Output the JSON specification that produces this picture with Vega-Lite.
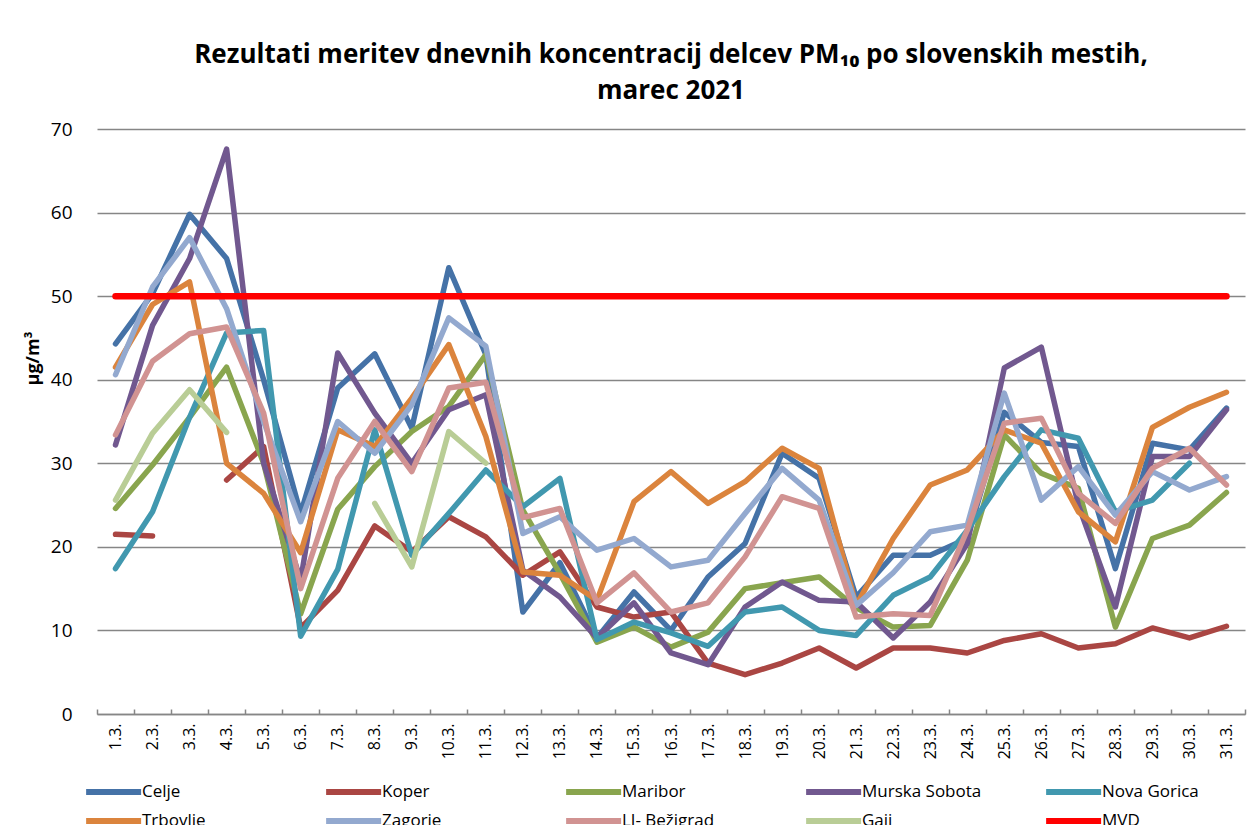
{
  "$schema": "https://vega.github.io/schema/vega-lite/v6.json",
  "autosize": "none",
  "width": 1148,
  "height": 585,
  "padding": {"left": 97, "top": 129, "right": 5, "bottom": 111},
  "background": "white",
  "config": {
    "font": "Open Sans",
    "view": {"stroke": null}
  },
  "title": {
    "text": ["Rezultati meritev dnevnih koncentracij delcev PM₁₀ po slovenskih mestih,", "marec 2021"],
    "font": "Open Sans",
    "fontSize": 26,
    "fontWeight": "bold",
    "color": "black",
    "lineHeight": 36,
    "offset": 16,
    "anchor": "middle"
  },
  "data": {
    "values": [
      {"day": "1.3.", "Celje": 44.3, "Koper": 21.5, "Maribor": 24.6, "Murska Sobota": 32.2, "Nova Gorica": 17.4, "Trbovlje": 41.5, "Zagorje": 40.6, "LJ- Bežigrad": 33.4, "Gaji": 25.6, "MVD": 50},
      {"day": "2.3.", "Celje": 50.3, "Koper": 21.3, "Maribor": 29.8, "Murska Sobota": 46.5, "Nova Gorica": 24.2, "Trbovlje": 49.0, "Zagorje": 51.1, "LJ- Bežigrad": 42.2, "Gaji": 33.6, "MVD": 50},
      {"day": "3.3.", "Celje": 59.8, "Koper": null, "Maribor": 35.5, "Murska Sobota": 54.5, "Nova Gorica": 35.5, "Trbovlje": 51.7, "Zagorje": 57.0, "LJ- Bežigrad": 45.5, "Gaji": 38.8, "MVD": 50},
      {"day": "4.3.", "Celje": 54.5, "Koper": 28.0, "Maribor": 41.5, "Murska Sobota": 67.6, "Nova Gorica": 45.6, "Trbovlje": 30.0, "Zagorje": 48.5, "LJ- Bežigrad": 46.3, "Gaji": 33.7, "MVD": 50},
      {"day": "5.3.", "Celje": 40.0, "Koper": 32.0, "Maribor": 30.0, "Murska Sobota": 30.0, "Nova Gorica": 45.9, "Trbovlje": 26.4, "Zagorje": 35.0, "LJ- Bežigrad": 36.0, "Gaji": null, "MVD": 50},
      {"day": "6.3.", "Celje": 24.0, "Koper": 10.3, "Maribor": 12.0, "Murska Sobota": 16.0, "Nova Gorica": 9.3, "Trbovlje": 19.3, "Zagorje": 23.0, "LJ- Bežigrad": 15.0, "Gaji": null, "MVD": 50},
      {"day": "7.3.", "Celje": 39.0, "Koper": 14.8, "Maribor": 24.5, "Murska Sobota": 43.2, "Nova Gorica": 17.3, "Trbovlje": 34.0, "Zagorje": 35.0, "LJ- Bežigrad": 28.2, "Gaji": null, "MVD": 50},
      {"day": "8.3.", "Celje": 43.1, "Koper": 22.5, "Maribor": 29.6, "Murska Sobota": 36.0, "Nova Gorica": 34.0, "Trbovlje": 32.0, "Zagorje": 31.2, "LJ- Bežigrad": 35.0, "Gaji": 25.2, "MVD": 50},
      {"day": "9.3.", "Celje": 34.2, "Koper": 19.4, "Maribor": 33.8, "Murska Sobota": 30.0, "Nova Gorica": 19.0, "Trbovlje": 37.8, "Zagorje": 37.0, "LJ- Bežigrad": 29.0, "Gaji": 17.6, "MVD": 50},
      {"day": "10.3.", "Celje": 53.4, "Koper": 23.6, "Maribor": 36.8, "Murska Sobota": 36.4, "Nova Gorica": 24.0, "Trbovlje": 44.2, "Zagorje": 47.4, "LJ- Bežigrad": 39.0, "Gaji": 33.8, "MVD": 50},
      {"day": "11.3.", "Celje": 43.0, "Koper": 21.2, "Maribor": 43.0, "Murska Sobota": 38.2, "Nova Gorica": 29.2, "Trbovlje": 33.2, "Zagorje": 44.0, "LJ- Bežigrad": 39.7, "Gaji": 30.0, "MVD": 50},
      {"day": "12.3.", "Celje": 12.2, "Koper": 16.6, "Maribor": 24.4, "Murska Sobota": 17.2, "Nova Gorica": 24.8, "Trbovlje": 17.0, "Zagorje": 21.6, "LJ- Bežigrad": 23.5, "Gaji": null, "MVD": 50},
      {"day": "13.3.", "Celje": 18.1, "Koper": 19.4, "Maribor": 16.8, "Murska Sobota": 14.0, "Nova Gorica": 28.2, "Trbovlje": 16.6, "Zagorje": 23.6, "LJ- Bežigrad": 24.6, "Gaji": null, "MVD": 50},
      {"day": "14.3.", "Celje": 9.1, "Koper": 12.8, "Maribor": 8.6, "Murska Sobota": 9.1, "Nova Gorica": 8.9, "Trbovlje": 13.6, "Zagorje": 19.6, "LJ- Bežigrad": 13.3, "Gaji": null, "MVD": 50},
      {"day": "15.3.", "Celje": 14.6, "Koper": 11.6, "Maribor": 10.4, "Murska Sobota": 13.3, "Nova Gorica": 11.0, "Trbovlje": 25.4, "Zagorje": 21.0, "LJ- Bežigrad": 16.9, "Gaji": null, "MVD": 50},
      {"day": "16.3.", "Celje": 10.0, "Koper": 12.2, "Maribor": 8.0, "Murska Sobota": 7.3, "Nova Gorica": 9.7, "Trbovlje": 29.0, "Zagorje": 17.6, "LJ- Bežigrad": 12.2, "Gaji": null, "MVD": 50},
      {"day": "17.3.", "Celje": 16.4, "Koper": 6.1, "Maribor": 9.8, "Murska Sobota": 5.9, "Nova Gorica": 8.1, "Trbovlje": 25.2, "Zagorje": 18.4, "LJ- Bežigrad": 13.3, "Gaji": null, "MVD": 50},
      {"day": "18.3.", "Celje": 20.4, "Koper": 4.7, "Maribor": 15.0, "Murska Sobota": 12.8, "Nova Gorica": 12.2, "Trbovlje": 27.8, "Zagorje": 24.0, "LJ- Bežigrad": 18.8, "Gaji": null, "MVD": 50},
      {"day": "19.3.", "Celje": 31.2, "Koper": 6.1, "Maribor": 15.7, "Murska Sobota": 15.8, "Nova Gorica": 12.8, "Trbovlje": 31.8, "Zagorje": 29.4, "LJ- Bežigrad": 26.0, "Gaji": null, "MVD": 50},
      {"day": "20.3.", "Celje": 28.2, "Koper": 7.9, "Maribor": 16.4, "Murska Sobota": 13.6, "Nova Gorica": 10.0, "Trbovlje": 29.4, "Zagorje": 25.6, "LJ- Bežigrad": 24.6, "Gaji": null, "MVD": 50},
      {"day": "21.3.", "Celje": 14.0, "Koper": 5.5, "Maribor": 12.7, "Murska Sobota": 13.4, "Nova Gorica": 9.4, "Trbovlje": 13.0, "Zagorje": 13.0, "LJ- Bežigrad": 11.6, "Gaji": null, "MVD": 50},
      {"day": "22.3.", "Celje": 19.0, "Koper": 7.9, "Maribor": 10.4, "Murska Sobota": 9.1, "Nova Gorica": 14.2, "Trbovlje": 21.0, "Zagorje": 16.9, "LJ- Bežigrad": 12.0, "Gaji": null, "MVD": 50},
      {"day": "23.3.", "Celje": 19.0, "Koper": 7.9, "Maribor": 10.6, "Murska Sobota": 13.4, "Nova Gorica": 16.4, "Trbovlje": 27.4, "Zagorje": 21.8, "LJ- Bežigrad": 11.8, "Gaji": null, "MVD": 50},
      {"day": "24.3.", "Celje": 21.0, "Koper": 7.3, "Maribor": 18.4, "Murska Sobota": 20.4, "Nova Gorica": 22.0, "Trbovlje": 29.2, "Zagorje": 22.6, "LJ- Bežigrad": 22.0, "Gaji": null, "MVD": 50},
      {"day": "25.3.", "Celje": 36.1, "Koper": 8.8, "Maribor": 33.4, "Murska Sobota": 41.4, "Nova Gorica": 28.4, "Trbovlje": 34.0, "Zagorje": 38.4, "LJ- Bežigrad": 34.8, "Gaji": null, "MVD": 50},
      {"day": "26.3.", "Celje": 32.5, "Koper": 9.6, "Maribor": 28.8, "Murska Sobota": 43.9, "Nova Gorica": 34.0, "Trbovlje": 32.4, "Zagorje": 25.6, "LJ- Bežigrad": 35.4, "Gaji": null, "MVD": 50},
      {"day": "27.3.", "Celje": 32.0, "Koper": 7.9, "Maribor": 27.0, "Murska Sobota": 25.0, "Nova Gorica": 33.0, "Trbovlje": 24.2, "Zagorje": 29.6, "LJ- Bežigrad": 26.4, "Gaji": null, "MVD": 50},
      {"day": "28.3.", "Celje": 17.4, "Koper": 8.4, "Maribor": 10.4, "Murska Sobota": 12.8, "Nova Gorica": 24.2, "Trbovlje": 20.6, "Zagorje": 23.8, "LJ- Bežigrad": 22.8, "Gaji": null, "MVD": 50},
      {"day": "29.3.", "Celje": 32.4, "Koper": 10.3, "Maribor": 21.0, "Murska Sobota": 30.8, "Nova Gorica": 25.6, "Trbovlje": 34.3, "Zagorje": 29.0, "LJ- Bežigrad": 29.4, "Gaji": null, "MVD": 50},
      {"day": "30.3.", "Celje": 31.6, "Koper": 9.1, "Maribor": 22.6, "Murska Sobota": 30.8, "Nova Gorica": 30.0, "Trbovlje": 36.7, "Zagorje": 26.8, "LJ- Bežigrad": 31.8, "Gaji": null, "MVD": 50},
      {"day": "31.3.", "Celje": 36.6, "Koper": 10.5, "Maribor": 26.5, "Murska Sobota": 36.4, "Nova Gorica": null, "Trbovlje": 38.5, "Zagorje": 28.4, "LJ- Bežigrad": 27.4, "Gaji": null, "MVD": 50}
    ]
  },
  "transform": [
    {"fold": ["Celje", "Koper", "Maribor", "Murska Sobota", "Nova Gorica", "Trbovlje", "Zagorje", "LJ- Bežigrad", "Gaji", "MVD"], "as": ["city", "value"]}
  ],
  "mark": {"type": "line", "strokeCap": "round", "strokeJoin": "round", "invalid": "break-paths-show-domains"},
  "encoding": {
    "x": {
      "field": "day",
      "type": "ordinal",
      "sort": null,
      "bandPosition": 0.5,
      "scale": {"type": "band", "paddingInner": 0, "paddingOuter": 0},
      "axis": {
        "title": null,
        "labelAngle": -90,
        "labelFontSize": 16,
        "labelColor": "black",
        "labelPadding": 14,
        "tickBand": "extent",
        "tickSize": -5,
        "tickColor": "#868686",
        "tickWidth": 1.5,
        "domainColor": "#868686",
        "domainWidth": 1.5,
        "grid": false
      }
    },
    "y": {
      "field": "value",
      "type": "quantitative",
      "scale": {"domain": [0, 70], "nice": false},
      "axis": {
        "title": "µg/m³",
        "titleFontSize": 18,
        "titleFontWeight": "bold",
        "titleColor": "black",
        "titleX": -55,
        "titleY": 229,
        "values": [0, 10, 20, 30, 40, 50, 60, 70],
        "labelFontSize": 19,
        "labelColor": "black",
        "labelPadding": 25,
        "ticks": false,
        "domain": false,
        "grid": true,
        "gridColor": "#868686",
        "gridWidth": 1.5
      }
    },
    "color": {
      "field": "city",
      "type": "nominal",
      "scale": {
        "domain": ["Celje", "Koper", "Maribor", "Murska Sobota", "Nova Gorica", "Trbovlje", "Zagorje", "LJ- Bežigrad", "Gaji", "MVD"],
        "range": ["#4572A7", "#AA4643", "#89A54E", "#71588F", "#4198AF", "#DB843D", "#93A9CF", "#D19392", "#B9CD96", "#FF0000"]
      },
      "legend": {
        "title": null,
        "orient": "none",
        "legendX": -14,
        "legendY": 653,
        "direction": "horizontal",
        "columns": 5,
        "gridAlign": "all",
        "columnPadding": 52,
        "rowPadding": 5,
        "symbolType": "M-1,0H7",
        "symbolSize": 189,
        "symbolStrokeWidth": 6,
        "labelFontSize": 17,
        "labelColor": "black",
        "labelOffset": 39
      }
    },
    "strokeWidth": {
      "condition": {"test": "datum.city === 'MVD'", "value": 6.5},
      "value": 5.5
    }
  }
}
